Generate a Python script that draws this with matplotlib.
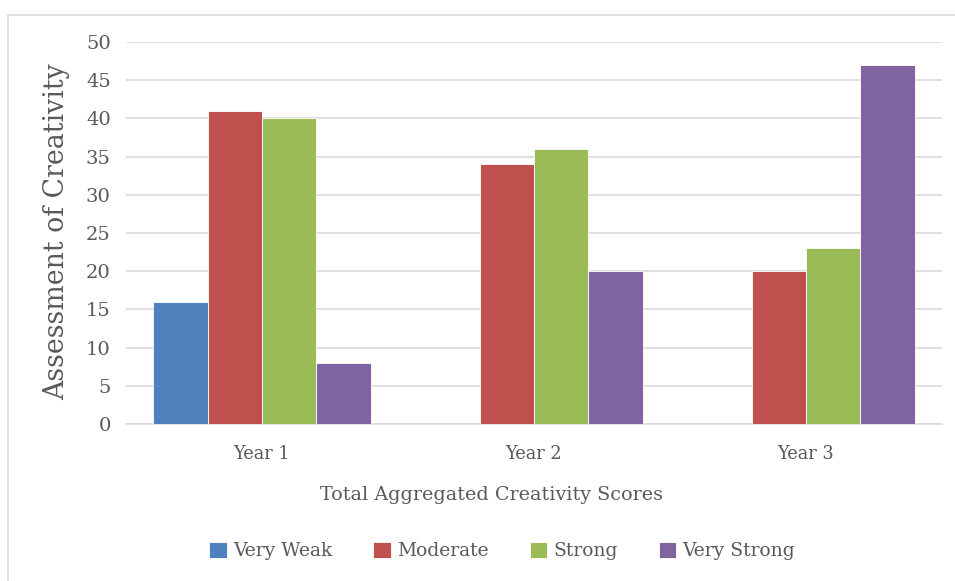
import matplotlib.pyplot as plt
import numpy as np
from matplotlib.patches import Rectangle

categories = ["Year 1", "Year 2", "Year 3"]
series = ["Very Weak", "Moderate", "Strong", "Very Strong"]
very_weak = [16, 0, 0]
moderate = [41, 34, 20]
strong = [40, 36, 23]
very_strong = [8, 20, 47]
values = [very_weak, moderate, strong, very_strong]
colors = ["#4F81BD", "#C0504D", "#9BBB59", "#8064A2"]

plt.rcParams['font.family'] = ['DejaVu Serif']
txt = "#595959"

W, H = 955, 581
fig = plt.figure(figsize=(W / 100, H / 100), dpi=100)
ax = fig.add_axes([126 / W, 1 - 424 / H, (942 - 126) / W, (424 - 42) / H])

x = np.arange(len(categories))
bw = 0.2
for i, (name, vals) in enumerate(zip(series, values)):
    ax.bar(x + (i - 1.5) * bw, vals, bw, color=colors[i], label=name,
           edgecolor="white", linewidth=0.6, zorder=3)

ax.set_xlim(-0.5, 2.5)
ax.set_ylim(0, 50)
ax.set_yticks(range(0, 51, 5))
ax.set_xticks(x)
ax.set_xticklabels(categories)
ax.grid(axis="y", color="#D9D9D9", linewidth=1.2, zorder=0)
for s in ["top", "right", "left"]:
    ax.spines[s].set_visible(False)
ax.spines["bottom"].set_color("#D9D9D9")
ax.spines["bottom"].set_linewidth(1.2)
ax.tick_params(length=0, colors=txt)
ax.tick_params(axis="y", pad=11, labelsize=14)
ax.tick_params(axis="x", pad=15, labelsize=12.8)

fig.text(57 / W, 1 - 232 / H, "Assessment of Creativity", rotation=90,
         ha="center", va="center", fontsize=19.3, color=txt)
fig.text(491 / W, 1 - 495 / H, "Total Aggregated Creativity Scores",
         ha="center", va="center", fontsize=13.8, color=txt)

fig.legend(loc="center", bbox_to_anchor=(502 / W, 1 - 551 / H), ncol=4,
           frameon=False, fontsize=13.5, handlelength=0.95, handleheight=0.95,
           handletextpad=0.3, columnspacing=2.2, labelcolor=txt)

fig.patches.append(Rectangle((8 / W, -0.1), 1.1, 1.1 - 15 / H + 0.0,
                             transform=fig.transFigure, fill=False,
                             edgecolor="#D9D9D9", linewidth=1.2))

fig.savefig("out.png", dpi=100)
